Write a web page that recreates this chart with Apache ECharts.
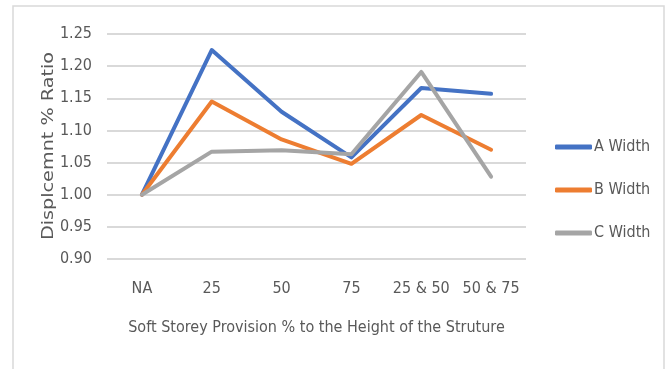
<!DOCTYPE html>
<html>
<head>
<meta charset="utf-8">
<script src="https://cdn.jsdelivr.net/npm/echarts@6/dist/echarts.min.js"></script>
<style>
  html, body { margin: 0; padding: 0; background: #fff; }
  #chart { width: 668px; height: 369px; }
</style>
</head>
<body>
<div id="chart"></div>
<script>
// Soft storey provision levels
const categories = ['NA', '25', '50', '75', '25 & 50', '50 & 75'];

// Displacement ratio for each building width
const aWidth = [1.000, 1.225, 1.129, 1.058, 1.166, 1.157];
const bWidth = [1.000, 1.145, 1.086, 1.048, 1.124, 1.070];
const cWidth = [1.000, 1.067, 1.069, 1.063, 1.191, 1.028];

const seriesNames = ['A Width', 'B Width', 'C Width'];
const seriesColors = ['#4472C4', '#ED7D31', '#A5A5A5'];

const narrow = '"DejaVu Sans Condensed", sans-serif';
const textGray = '#595959';

const chart = echarts.init(document.getElementById('chart'), null, { renderer: 'canvas' });

const makeLine = (name, data, color) => ({
  name: name,
  type: 'line',
  data: data,
  symbol: 'none',
  lineStyle: { width: 4, color: color, cap: 'round', join: 'round' },
  itemStyle: { color: color }
});

chart.setOption({
  animation: false,
  backgroundColor: '#ffffff',
  grid: { left: 107, right: 142, top: 34, bottom: 110 },
  xAxis: {
    type: 'category',
    data: categories,
    boundaryGap: true,
    axisLine: { show: false },
    axisTick: { show: false },
    axisLabel: { color: textGray, fontFamily: narrow, fontSize: 16, margin: 22, interval: 0 },
    name: 'Soft Storey Provision % to the Height of the Struture',
    nameLocation: 'middle',
    nameGap: 61,
    nameTextStyle: { color: textGray, fontFamily: narrow, fontSize: 16 }
  },
  yAxis: {
    type: 'value',
    min: 0.90,
    max: 1.25,
    interval: 0.05,
    axisLine: { show: false },
    axisTick: { show: false },
    splitLine: { lineStyle: { color: '#d9d9d9', width: 2 } },
    axisLabel: {
      color: textGray, fontFamily: narrow, fontSize: 16, margin: 15,
      formatter: v => v.toFixed(2)
    }
  },
  legend: {
    orient: 'vertical',
    left: 550,
    top: 132,
    itemWidth: 37,
    itemHeight: 5,
    itemGap: 23,
    icon: 'roundRect',
    textStyle: { color: textGray, fontFamily: narrow, fontSize: 16, lineHeight: 20, padding: [0, 0, 0, -3] },
    data: seriesNames
  },
  graphic: [
    {
      type: 'rect',
      shape: { x: 13, y: 6, width: 651, height: 380 },
      style: { fill: 'none', stroke: '#d9d9d9', lineWidth: 1.5 },
      silent: true
    },
    {
      type: 'text',
      x: 49,
      y: 146,
      rotation: Math.PI / 2,
      scaleX: 1.2,
      style: {
        text: 'Displcemnt % Ratio',
        font: '16px "DejaVu Sans", sans-serif',
        fill: textGray,
        textAlign: 'center',
        textVerticalAlign: 'middle'
      },
      silent: true
    }
  ],
  series: [
    makeLine(seriesNames[0], aWidth, seriesColors[0]),
    makeLine(seriesNames[1], bWidth, seriesColors[1]),
    makeLine(seriesNames[2], cWidth, seriesColors[2])
  ]
});
</script>
</body>
</html>
